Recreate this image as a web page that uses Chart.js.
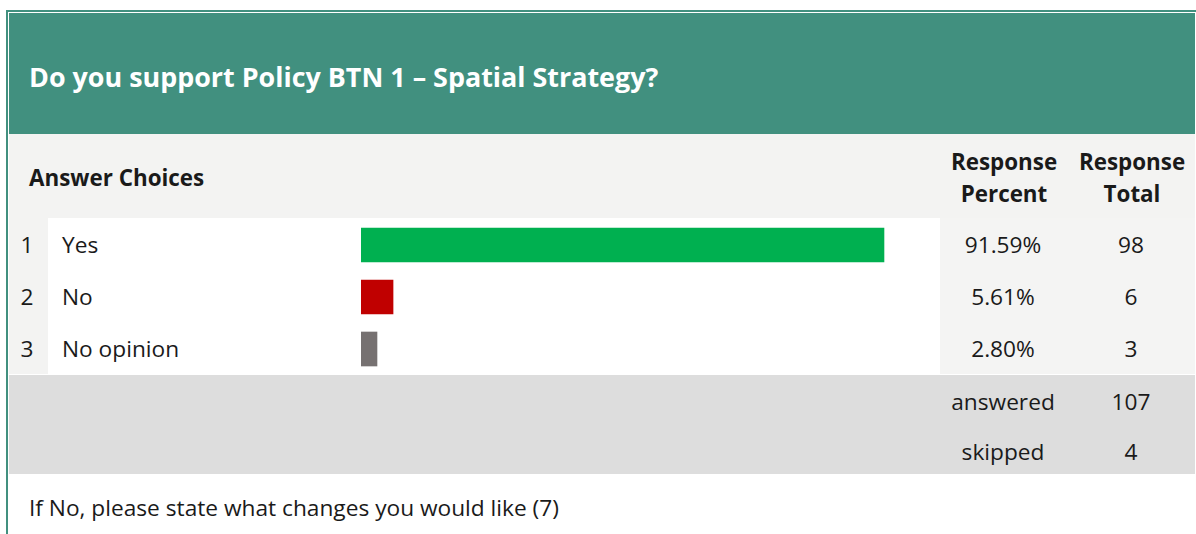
<!DOCTYPE html>
<html>
<head>
<meta charset="utf-8">
<script src="https://cdn.jsdelivr.net/npm/chart.js@4.4.0/dist/chart.umd.min.js"></script>
<style>
  html, body { margin: 0; padding: 0; background: #ffffff; }
  body { width: 1196px; height: 534px; overflow: hidden; position: relative;
         font-family: "Open Sans", "Noto Sans", sans-serif; color: #1a1a1a; }
  .abs { position: absolute; }
  .frame { left: 6px; top: 10px; width: 1192px; height: 530px;
           border-top: 2px solid #41907f; border-left: 2px solid #41907f; }
  .head { left: 9px; top: 13px; width: 1186px; height: 121px; background: #41907f; }
  .title { left: 29px; top: 57px; font-size: 26.9px; font-weight: 700; color: #ffffff;
           line-height: 40px; white-space: nowrap; }
  .sub { left: 9px; top: 134px; width: 1186px; height: 84px; background: #f3f3f2; }
  .cell { font-size: 22.7px; line-height: 32px; white-space: nowrap; }
  .bold { font-weight: 700; font-size: 22.4px; }
  .numcol { left: 9px; top: 218px; width: 39px; height: 156px; background: #f3f3f2; }
  .rows { left: 48px; top: 218px; width: 892px; height: 156px; background: #ffffff; }
  .resp { left: 940px; top: 218px; width: 255px; height: 156px; background: #f4f4f3; }
  .sum { left: 9px; top: 375px; width: 1186px; height: 99px; background: #dddddd; }
  .center { text-align: center; }
  #chartWrap { left: 361px; top: 219px; width: 571px; height: 156px; }
</style>
</head>
<body>
<div class="abs frame"></div>
<div class="abs head"></div>
<div class="abs title" id="title"></div>
<div class="abs sub"></div>
<div class="abs numcol"></div>
<div class="abs rows"></div>
<div class="abs resp"></div>
<div class="abs sum"></div>
<div class="abs" id="chartWrap"><canvas id="c" width="571" height="156"></canvas></div>
<div id="texts"></div>

<script>
// ---- data ----
const questionTitle = "Do you support Policy BTN 1 \u2013 Spatial Strategy?";
const categories = ["Yes", "No", "No opinion"];
const responsePercent = [91.59, 5.61, 2.80];
const responseTotal = [98, 6, 3];
const summaryLabels = ["answered", "skipped"];
const summaryValues = [107, 4];
const footerNote = "If No, please state what changes you would like (7)";

// ---- styles ----
const barColors = ["#00b050", "#c00000", "#767171"];

document.getElementById("title").textContent = questionTitle;

const texts = document.getElementById("texts");
function addText(str, left, centerY, cls, width) {
  const d = document.createElement("div");
  d.className = "abs cell " + (cls || "");
  d.textContent = str;
  d.style.left = left + "px";
  d.style.top = (centerY - 16) + "px";
  if (width) d.style.width = width + "px";
  texts.appendChild(d);
  return d;
}

// header row
addText("Answer Choices", 29, 178, "bold");
addText("Response", 944, 162, "bold center", 120);
addText("Percent", 944, 194, "bold center", 120);
addText("Response", 1072, 162, "bold center", 120);
addText("Total", 1072, 194, "bold center", 120);

// answer rows
const rowTop = 219, rowH = 52;
categories.forEach((cat, i) => {
  const cy = rowTop + rowH * i + rowH / 2;
  addText(String(i + 1), 17, cy, "center", 20);
  addText(cat, 62, cy, "");
  addText(responsePercent[i].toFixed(2) + "%", 943, cy, "center", 120);
  addText(String(responseTotal[i]), 1071, cy, "center", 120);
});

// summary
summaryLabels.forEach((lab, i) => {
  const cy = 402 + 50 * i;
  addText(lab, 943, cy, "center", 120);
  addText(String(summaryValues[i]), 1071, cy, "center", 120);
});

addText(footerNote, 29, 508, "");

// ---- bars via Chart.js ----
new Chart(document.getElementById("c"), {
  type: "bar",
  data: {
    labels: categories,
    datasets: [{
      data: responsePercent,
      backgroundColor: barColors,
      borderWidth: 0,
      barThickness: 34
    }]
  },
  options: {
    indexAxis: "y",
    responsive: false,
    animation: false,
    events: [],
    layout: { padding: 0 },
    plugins: { legend: { display: false }, tooltip: { enabled: false } },
    scales: {
      x: { min: 0, max: 100, display: false },
      y: { display: false }
    }
  }
});
</script>
</body>
</html>
